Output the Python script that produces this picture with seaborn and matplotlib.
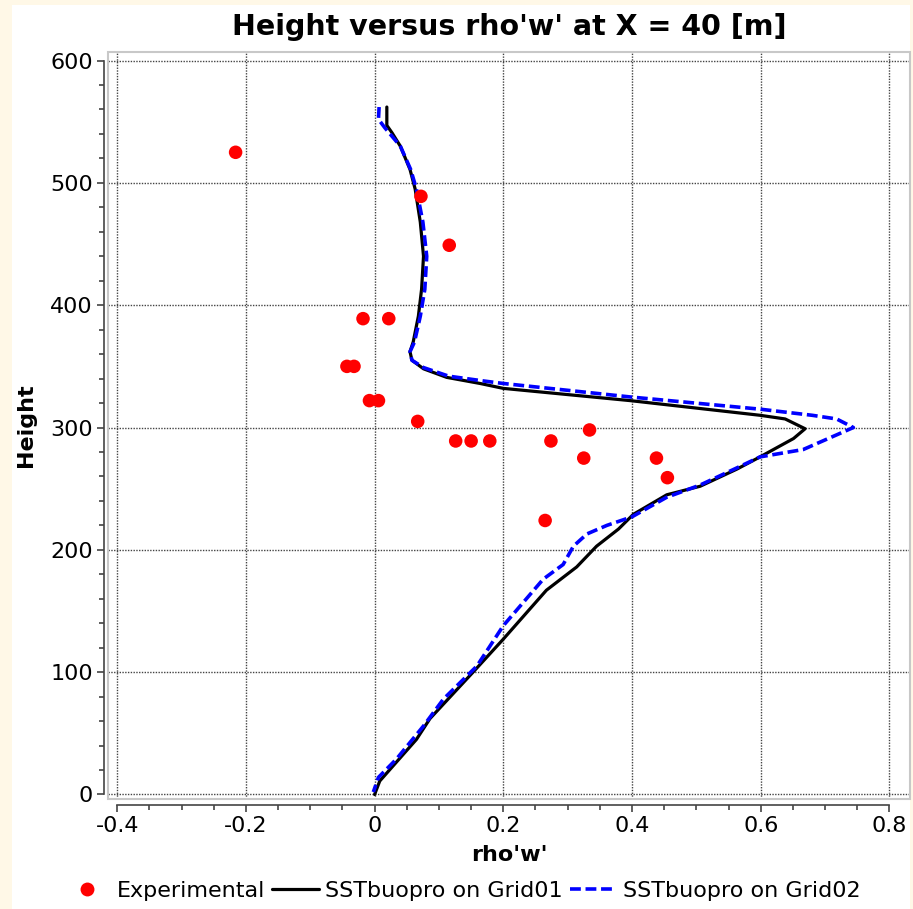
import numpy as np
import pandas as pd
import matplotlib
matplotlib.use("Agg")
import matplotlib.pyplot as plt
from matplotlib.patches import Rectangle
from matplotlib.lines import Line2D
from matplotlib.ticker import MultipleLocator
import seaborn as sns

# ---------------- data ----------------
exp_x = [-0.216, 0.072, 0.116, -0.018, 0.022, -0.043, -0.032, -0.008, 0.006,
         0.067, 0.126, 0.150, 0.179, 0.274, 0.334, 0.325, 0.438, 0.455, 0.265]
exp_y = [525, 489, 449, 389, 389, 350, 350, 322, 322,
         305, 289, 289, 289, 289, 298, 275, 275, 259, 224]

g1_x = [0.019, 0.019, 0.027, 0.040, 0.055, 0.063, 0.071, 0.076, 0.073, 0.068,
        0.060, 0.055, 0.058, 0.076, 0.112, 0.164, 0.200, 0.397, 0.599, 0.638,
        0.669, 0.651, 0.599, 0.563, 0.506, 0.454, 0.402, 0.379, 0.345, 0.314,
        0.267, 0.200, 0.153, 0.086, 0.065, 0.008, 0.000]
g1_y = [562, 547, 541, 530, 511, 495, 468, 440, 413, 391,
        370, 362, 355, 348, 341, 336, 332, 322, 310, 307,
        299, 291, 276, 266, 252, 245, 229, 217, 203, 186,
        167, 127, 100, 62, 45, 11, 0]

g2_x = [0.007, 0.006, 0.016, 0.040, 0.056, 0.065, 0.075, 0.081, 0.078, 0.071,
        0.062, 0.055, 0.058, 0.076, 0.115, 0.170, 0.200, 0.397, 0.599, 0.680,
        0.718, 0.744, 0.718, 0.666, 0.599, 0.563, 0.506, 0.454, 0.400, 0.361,
        0.330, 0.309, 0.293, 0.262, 0.231, 0.200, 0.159, 0.107, 0.076, 0.034,
        0.006, -0.002]
g2_y = [562, 552, 545, 530, 511, 495, 468, 440, 413, 391,
        370, 362, 355, 349, 342, 338, 336, 325, 315, 310,
        307, 300, 294, 282, 276, 267, 253, 243, 227, 220,
        213, 203, 188, 176, 157, 138, 105, 78, 56, 29,
        14, 2]

title = "Height versus rho'w' at X = 40 [m]"
xlabel = "rho'w'"
ylabel = "Height"
labels = ["Experimental", "SSTbuopro on Grid01", "SSTbuopro on Grid02"]
x_ticks = [-0.4, -0.2, 0, 0.2, 0.4, 0.6, 0.8]
x_ticklabels = ["-0.4", "-0.2", "0", "0.2", "0.4", "0.6", "0.8"]
y_ticks = [0, 100, 200, 300, 400, 500, 600]

# ---------------- style ----------------
sns.set_style("white")
plt.rcParams["font.family"] = ["DejaVu Sans"]
plt.rcParams["axes.unicode_minus"] = False
plt.rcParams["text.color"] = "black"
plt.rcParams["axes.labelcolor"] = "black"

W, H = 913, 909
fig = plt.figure(figsize=(W / 100, H / 100), dpi=100, facecolor="#FFF8E7")
fig.patches.append(Rectangle((12 / W, 0), (910 - 12) / W, 1 - 5 / H,
                             transform=fig.transFigure, facecolor="white",
                             edgecolor="none", zorder=-10))

ax = fig.add_axes([108 / W, 1 - 799 / H, (910 - 108) / W, (799 - 52) / H])
ax.set_facecolor("white")

df_exp = pd.DataFrame({"x": exp_x, "y": exp_y})
df_g1 = pd.DataFrame({"x": g1_x, "y": g1_y})
df_g2 = pd.DataFrame({"x": g2_x, "y": g2_y})

sns.lineplot(data=df_g1, x="x", y="y", sort=False, estimator=None, ax=ax,
             color="black", linewidth=2.3, zorder=3)
sns.lineplot(data=df_g2, x="x", y="y", sort=False, estimator=None, ax=ax,
             color="#0000FF", linewidth=2.6, zorder=4)
ax.lines[-1].set_dashes((3, 1.3))
ax.lines[-1].set_dash_capstyle("butt")
sns.scatterplot(data=df_exp, x="x", y="y", ax=ax, color="#FF0000", s=95,
                edgecolor="none", zorder=5)

ax.set_xlim(-0.4143, 0.832)
ax.set_ylim(-3.7, 607)
ax.set_xticks(x_ticks)
ax.set_xticklabels(x_ticklabels)
ax.set_yticks(y_ticks)
ax.xaxis.set_minor_locator(MultipleLocator(0.05))
ax.yaxis.set_minor_locator(MultipleLocator(20))

ax.grid(True, which="major", color="#444444", linestyle=(0, (1, 1)), linewidth=1)

for s in ["top", "right"]:
    ax.spines[s].set_visible(False)
for s in ["left", "bottom"]:
    ax.spines[s].set_visible(True)
    ax.spines[s].set_color("#444444")
    ax.spines[s].set_linewidth(1.2)
ax.spines["left"].set_position(("outward", 3))
ax.spines["bottom"].set_position(("outward", 4.5))
ax.spines["left"].set_bounds(0, 600)
ax.spines["bottom"].set_bounds(-0.4, 0.8)

# light grey plot frame
ax.add_patch(Rectangle((0, 0), 1, 1, transform=ax.transAxes, fill=False,
                       edgecolor="#C8C8C8", linewidth=1.5, zorder=1,
                       clip_on=False))

ax.tick_params(axis="both", which="major", direction="out", length=5,
               width=1.2, color="#444444", labelsize=16, labelcolor="black",
               bottom=True, left=True, pad=3)
ax.tick_params(axis="both", which="minor", direction="out", length=3.5,
               width=1.2, color="#444444", bottom=True, left=True)

ax.set_title(title, fontsize=20.5, fontweight="bold", pad=12, color="black")
ax.set_xlabel(xlabel, fontsize=16, fontweight="bold", labelpad=6)
ax.set_ylabel(ylabel, fontsize=16, fontweight="bold", labelpad=10)

handles = [
    Line2D([], [], marker="o", linestyle="none", color="#FF0000",
           markersize=10, markeredgewidth=0),
    Line2D([], [], color="black", linewidth=2.3),
    Line2D([], [], color="#0000FF", linewidth=2.6, dashes=(3, 1.3),
           dash_capstyle="butt"),
]
fig.legend(handles, labels, loc="center", bbox_to_anchor=(462 / W, 1 - 891 / H),
           ncol=3, frameon=False, fontsize=16, handlelength=2.1,
           handletextpad=0.3, columnspacing=0.3, borderpad=0)

fig.savefig("out.png", dpi=100, facecolor=fig.get_facecolor())
